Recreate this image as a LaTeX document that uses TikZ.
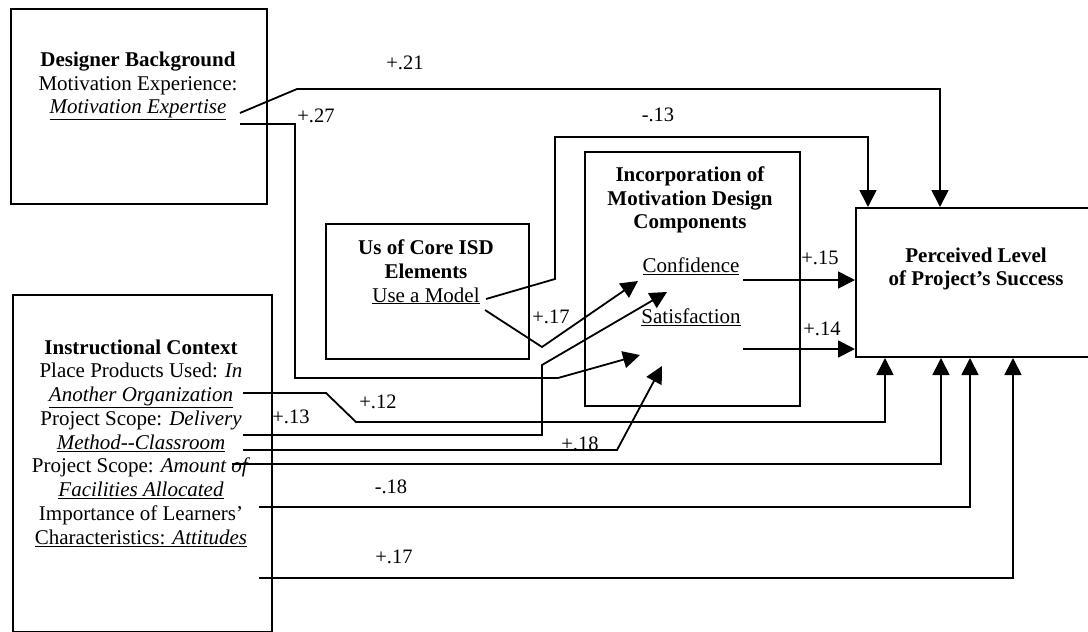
\documentclass[tikz,border=0pt]{standalone}
\usepackage{fontspec}
\setmainfont{Liberation Serif}
\usetikzlibrary{arrows.meta}
\begin{document}
\begin{tikzpicture}[x=1pt,y=-1pt,
  box/.style={draw,line width=2pt,anchor=north west,inner sep=0pt},
  txt/.style={align=center,font=\fontsize{21}{23.75}\selectfont,inner sep=0pt},
  lbl/.style={font=\fontsize{20.5}{23}\selectfont,inner sep=0pt},
  conn/.style={line width=1.8pt},
  arr/.style={conn,-{Triangle[length=17pt,width=17pt]}},
]
\clip (0,0) rectangle (1088,632);
\fill[white] (0,0) rectangle (1088,632);
% boxes
\node[box,minimum width=256pt,minimum height=195pt] (db) at (10,8) {};
\node[box,minimum width=259pt,minimum height=337pt] (ic) at (12,294) {};
\node[box,minimum width=203pt,minimum height=135pt] (isd) at (325,223) {};
\node[box,minimum width=215pt,minimum height=254pt] (imd) at (584,151) {};
\node[box,minimum width=250pt,minimum height=149pt] (pls) at (855,207) {};
% texts
\node[txt] (dbt) at (138,86) {\textbf{Designer Background}\\Motivation Experience:\\\underline{\textit{Motivation Expertise}}};
\node[txt] (ict) at (141,443) {\textbf{Instructional Context}\\Place Products Used: \textit{In}\\\underline{\textit{Another Organization}}\\Project Scope: \textit{Delivery}\\\underline{\textit{Method-{}-Classroom}}\\Project Scope: \textit{Amount of}\\\underline{\textit{Facilities Allocated}}\\Importance of Learners'\\\underline{Characteristics: \textit{Attitudes}}};
\node[txt] (isdt) at (426,272) {\textbf{Us of Core ISD}\\\textbf{Elements}\\\underline{Use a Model}};
\node[txt] (imdt) at (690,200) {\textbf{Incorporation of}\\\textbf{Motivation Design}\\\textbf{Components}};
\node[txt] (conf) at (691,266) {\underline{Confidence}};
\node[txt] (sat) at (691,317) {\underline{Satisfaction}};
\node[txt] (plst) at (976,269) {\textbf{Perceived Level}\\\textbf{of Project's Success}};
% connector points
\coordinate (s21) at (240,113);
\coordinate (s27) at (240,124);
\coordinate (s13a) at (486,299);
\coordinate (s17a) at (485,310);
\coordinate (s15) at (743,280);
\coordinate (s14) at (743,349);
\coordinate (s12) at (243,393);
\coordinate (s13b) at (243,435);
\coordinate (s18a) at (243,450);
\coordinate (sam) at (232,464);
\coordinate (s18b) at (259,507);
\coordinate (s17b) at (259,578);
\coordinate (x868) at (868,0);
\coordinate (x940) at (940,0);
\coordinate (x885) at (885,0);
\coordinate (x941) at (941,0);
\coordinate (x970) at (970,0);
\coordinate (x1013) at (1013,0);
\coordinate (t27) at (640,355);
\coordinate (t17a) at (638,281);
\coordinate (t13b) at (667,292);
\coordinate (t18a) at (662,366);
% connectors
\draw[arr] (s21) -- (297,89) -| (pls.north -| x940);
\draw[arr] (s27) -- (295,124) -- (295,378) -- (558,378) -- (t27);
\draw[arr] (s13a) -- (555,279) -- (555,137) -| (pls.north -| x868);
\draw[arr] (s17a) -- (542,347) -- (t17a);
\draw[arr] (s15) -- (pls.west |- s15);
\draw[arr] (s14) -- (pls.west |- s14);
\draw[arr] (s12) -- (326,393) -- (356,422) -| (pls.south -| x885);
\draw[arr] (s13b) -- (542,435) -- (542,365) -- (t13b);
\draw[arr] (s18a) -- (617,450) -- (t18a);
\draw[arr] (sam) -| (pls.south -| x941);
\draw[arr] (s18b) -| (pls.south -| x970);
\draw[arr] (s17b) -| (pls.south -| x1013);
% labels
\node[lbl] (l21) at (405,63) {+.21};
\node[lbl] (l27) at (316,116) {+.27};
\node[lbl] (l13a) at (658,115) {-.13};
\node[lbl] (l17a) at (551,317) {+.17};
\node[lbl] (l15) at (820,258) {+.15};
\node[lbl] (l14) at (822,329) {+.14};
\node[lbl] (l12) at (378,402) {+.12};
\node[lbl] (l13b) at (291,417) {+.13};
\node[lbl] (l18a) at (580,444) {+.18};
\node[lbl] (l18b) at (391,487) {-.18};
\node[lbl] (l17b) at (394,557) {+.17};
\end{tikzpicture}
\end{document}
